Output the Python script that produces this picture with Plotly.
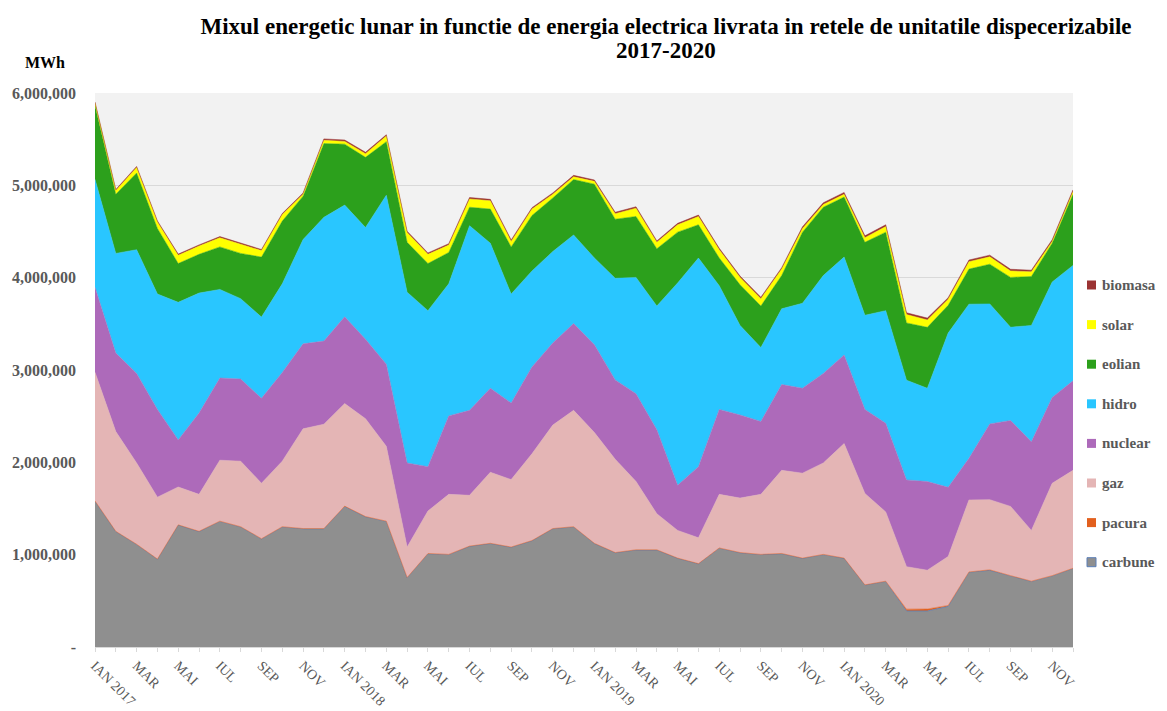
import plotly.graph_objects as go

# ---- data (thousand MWh, converted below) ----
month_names = ["IAN", "FEB", "MAR", "APR", "MAI", "IUN", "IUL", "AUG", "SEP", "OCT", "NOV", "DEC"]
years = [2017, 2018, 2019, 2020]
months = [(f"{m} {y}" if m == "IAN" else m) for y in years for m in month_names]

carbune = [1577, 1250, 1110, 950, 1320, 1250, 1360, 1300, 1170, 1300, 1280, 1280,
           1520, 1410, 1360, 750, 1010, 1000, 1090, 1120, 1080, 1150, 1280, 1300,
           1120, 1020, 1050, 1050, 960, 900, 1070, 1020, 1000, 1010, 960, 1000,
           960, 670, 710, 390, 390, 440, 810, 830, 770, 710, 770, 850]
pacura = [5, 3, 3, 3, 3, 3, 3, 3, 3, 3, 3, 3,
          6, 3, 3, 3, 3, 3, 3, 3, 3, 3, 3, 3,
          3, 3, 3, 3, 3, 3, 3, 3, 3, 3, 3, 3,
          3, 3, 3, 20, 22, 10, 3, 6, 3, 3, 3, 3]
gaz = [1393, 1080, 880, 670, 410, 400, 660, 710, 600, 710, 1080, 1130,
       1110, 1060, 810, 330, 460, 650, 550, 770, 730, 940, 1120, 1260,
       1200, 1010, 740, 390, 300, 280, 580, 590, 650, 900, 920, 990,
       1240, 990, 750, 460, 420, 530, 780, 760, 750, 550, 1000, 1060]
nuclear = [920, 850, 970, 950, 510, 880, 890, 890, 920, 960, 920, 900,
           940, 860, 890, 910, 480, 850, 920, 910, 830, 940, 890, 940,
           950, 860, 950, 910, 490, 770, 920, 900, 790, 930, 920, 970,
           960, 910, 960, 940, 960, 750, 450, 820, 930, 960, 930, 970]
hidro = [1170, 1080, 1340, 1250, 1490, 1300, 960, 870, 880, 960, 1130, 1340,
         1210, 1210, 1830, 1850, 1690, 1430, 2000, 1570, 1180, 1040, 990, 960,
         940, 1100, 1260, 1340, 2190, 2260, 1340, 970, 800, 820, 920, 1060,
         1060, 1020, 1220, 1080, 1010, 1670, 1670, 1300, 1010, 1260, 1250, 1250]
eolian = [800, 640, 830, 710, 420, 420, 460, 490, 650, 680, 470, 800,
          660, 760, 580, 540, 510, 340, 200, 370, 510, 600, 580, 600,
          800, 640, 660, 620, 550, 360, 300, 440, 450, 360, 770, 740,
          650, 790, 850, 620, 660, 300, 380, 430, 540, 530, 420, 770]
solar = [25, 40, 60, 70, 90, 90, 100, 100, 70, 70, 20, 35,
         30, 40, 60, 105, 100, 80, 90, 90, 60, 70, 40, 30,
         30, 60, 90, 70, 80, 90, 90, 80, 80, 70, 40, 30,
         30, 50, 60, 90, 80, 65, 80, 80, 70, 50, 20, 30]
biomasa = [12, 12, 12, 12, 12, 12, 12, 12, 12, 12, 15, 15,
           15, 15, 15, 15, 15, 15, 15, 15, 15, 15, 15, 15,
           15, 15, 15, 15, 15, 15, 15, 15, 15, 15, 18, 18,
           20, 20, 20, 20, 20, 18, 18, 18, 18, 18, 18, 18]

series = [
    ("carbune", carbune, "#8f8f8f", "#5a7fb8"),
    ("pacura", pacura, "#e2601e", "#e2601e"),
    ("gaz", gaz, "#e4b5b5", "#e4b5b5"),
    ("nuclear", nuclear, "#ad6aba", "#ad6aba"),
    ("hidro", hidro, "#29c6ff", "#29c6ff"),
    ("eolian", eolian, "#2ca01c", "#2ca01c"),
    ("solar", solar, "#ffff00", "#ffff00"),
    ("biomasa", biomasa, "#9b3333", "#9b3333"),
]

y_ticks = [0, 1000000, 2000000, 3000000, 4000000, 5000000, 6000000]
y_ticktext = ["-"] + [f"{v:,}" for v in y_ticks[1:]]

# page has an 8px body margin -> figure is drawn 8px smaller, coordinates shifted
OFF = 8
W, H = 1167 - OFF, 711 - OFF
L, T = 95 - OFF, 93 - OFF
R = W - (1073 - OFF)
B = H - (647 - OFF)
PW, PH = W - L - R, H - T - B

def px(xp):  # page x -> paper x
    return (xp - OFF - L) / PW

def py(yp):  # page y -> paper y
    return (H - B - (yp - OFF)) / PH

serif = "Liberation Serif, Times New Roman, serif"

x = list(range(len(months)))
fig = go.Figure()
for name, vals, fill, line in series:
    fig.add_trace(go.Scatter(
        x=x, y=[v * 1000 for v in vals], name=name, mode="lines",
        stackgroup="one", fillcolor=fill,
        line=dict(color=line, width=0.8 if name == "carbune" else 0.5),
        showlegend=False,
    ))

# manual legend (top to bottom: biomasa ... carbune)
shapes, annotations = [], []
for k, (name, vals, fill, line) in enumerate(reversed(series)):
    cy = 285 + 39.6 * k
    shapes.append(dict(
        type="rect", xref="paper", yref="paper",
        x0=px(1087), x1=px(1096), y0=py(cy + 4.5), y1=py(cy - 4.5),
        fillcolor=fill,
        line=dict(color=line if name == "carbune" else fill,
                  width=1 if name == "carbune" else 0),
    ))
    annotations.append(dict(
        text=f"<b>{name}</b>", xref="paper", yref="paper",
        x=px(1101), y=py(cy), xanchor="left", yanchor="middle",
        showarrow=False, borderpad=0,
        font=dict(family=serif, size=15, color="#595959"),
    ))

annotations += [
    dict(text="<b>2017-2020</b>", xref="paper", yref="paper",
         x=px(666), y=py(50), xanchor="center", yanchor="middle",
         showarrow=False, font=dict(family=serif, size=23, color="black")),
    dict(text="<b>MWh</b>", xref="paper", yref="paper",
         x=px(45), y=py(62), xanchor="center", yanchor="middle",
         showarrow=False, font=dict(family=serif, size=16, color="black")),
]

fig.update_layout(
    width=W, height=H,
    margin=dict(l=L, r=R, t=T, b=B, autoexpand=False),
    paper_bgcolor="white", plot_bgcolor="#f2f2f2",
    font=dict(family=serif, color="#595959"),
    title=dict(
        text="<b>Mixul energetic lunar in functie de energia electrica livrata in retele de unitatile dispecerizabile</b>",
        x=(666 - OFF) / W, xref="container", xanchor="center",
        y=1 - (26 - OFF) / H, yref="container", yanchor="middle",
        font=dict(family=serif, size=23, color="black"),
    ),
    showlegend=False,
    shapes=shapes,
    annotations=annotations,
)

tick_text = [m if i % 2 == 0 else "" for i, m in enumerate(months)]
fig.update_xaxes(
    range=[0, len(months) - 1], tickmode="array", tickvals=x, ticktext=tick_text,
    tickangle=45, ticks="outside", ticklen=4, tickcolor="#d9d9d9",
    showline=True, linecolor="#d9d9d9", showgrid=False, zeroline=False,
    automargin=False,
    tickfont=dict(family=serif, size=14, color="#595959"),
)
fig.update_yaxes(
    range=[0, 6000000], tickmode="array", tickvals=y_ticks, ticktext=y_ticktext,
    showgrid=True, gridcolor="#d9d9d9", gridwidth=1, zeroline=False,
    showline=False, ticks="", automargin=False, ticklabelstandoff=18,
    tickfont=dict(family=serif, size=16, color="#595959", weight="bold"),
)

fig.write_html("out.html", post_script="document.body.style.overflow='hidden';")
